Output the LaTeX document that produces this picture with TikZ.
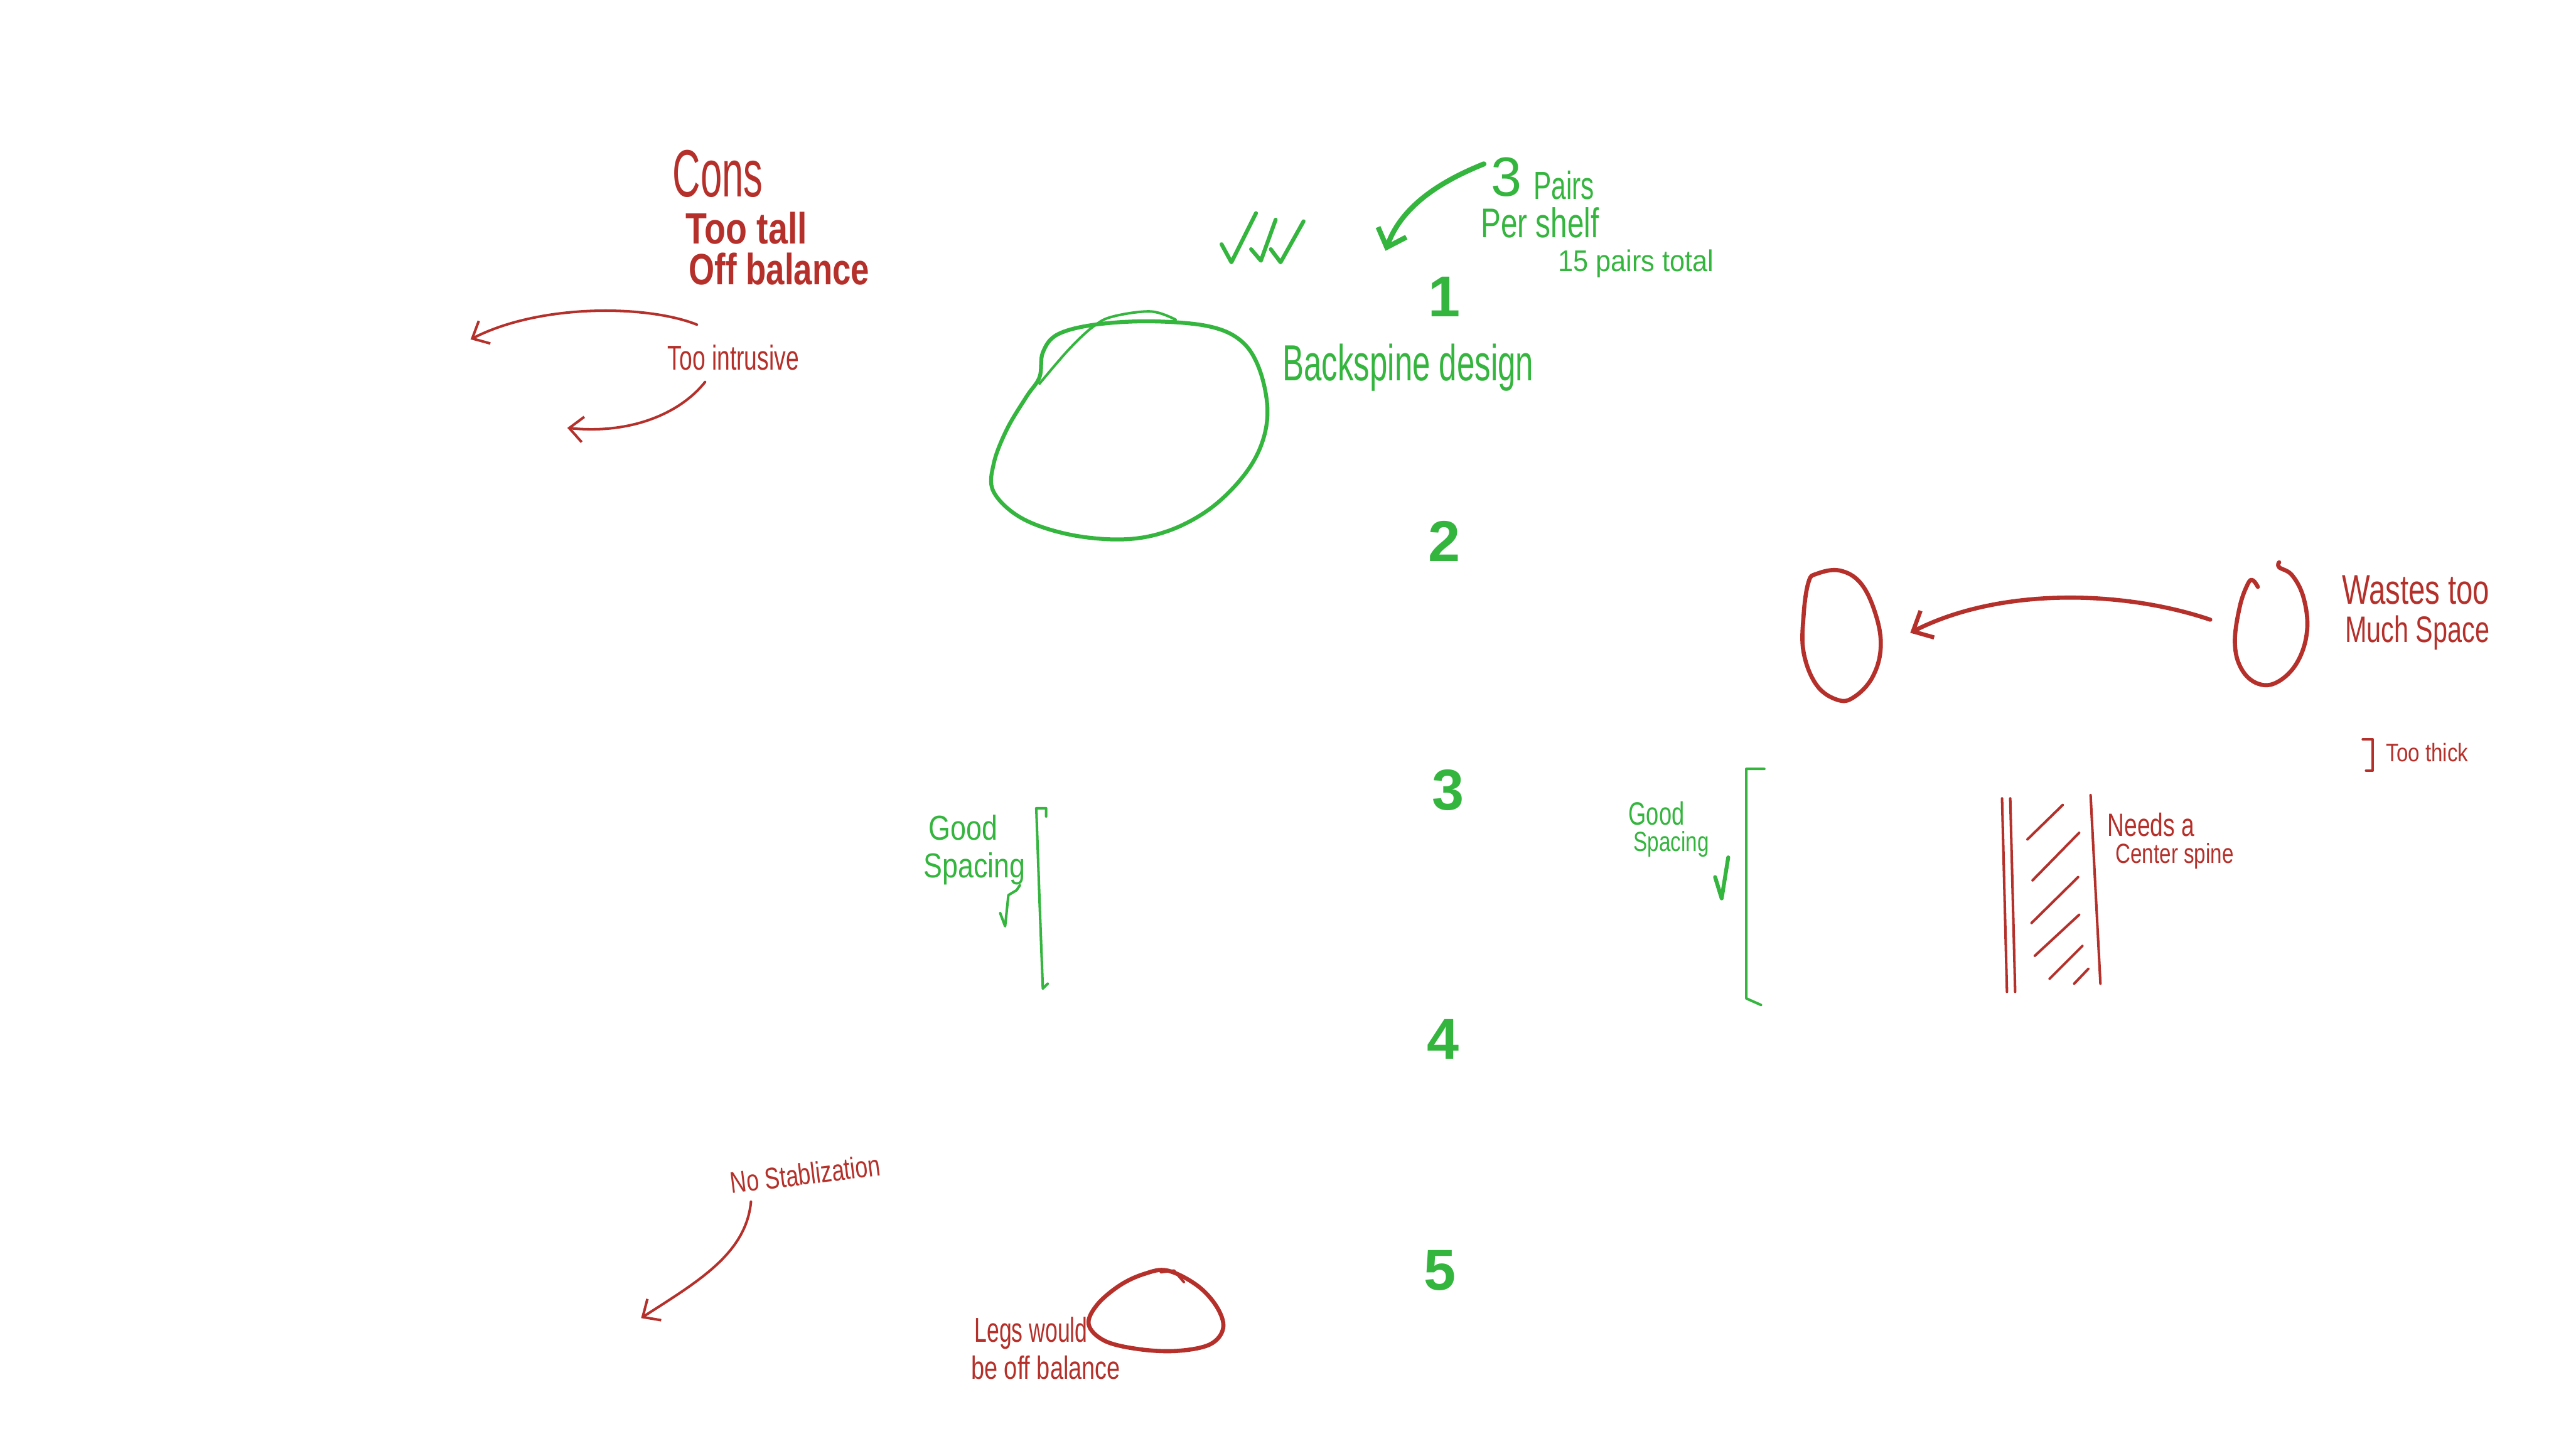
\documentclass[tikz,border=0pt]{standalone}
\usepackage{fontspec}
\setmainfont{Liberation Sans}
\usetikzlibrary{arrows.meta}
\definecolor{pen}{HTML}{B5302A}
\definecolor{leaf}{HTML}{34B53E}
\newcommand\fitw[2]{\resizebox{#1}{\height}{#2}}
\tikzset{
  fs/.style={font=\fontsize{#1}{#1}\selectfont},
  fsb/.style={font=\fontsize{#1}{#1}\selectfont\bfseries},
  redtxt/.style={text=pen, inner sep=0pt, anchor=west},
  grntxt/.style={text=leaf, inner sep=0pt, anchor=west},
  numtxt/.style={text=leaf, inner sep=0pt, font=\fontsize{25}{25}\selectfont\bfseries},
  redthin/.style={draw=pen, line width=1.1pt, line cap=round, line join=round},
  redthick/.style={draw=pen, line width=1.8pt, line cap=round, line join=round},
  grnthin/.style={draw=leaf, line width=1.1pt, line cap=round, line join=round},
  grnthick/.style={draw=leaf, line width=1.7pt, line cap=round, line join=round},
  barb/.style={-{Straight Barb[length=6pt,width=11pt]}},
}
\begin{document}
\begin{tikzpicture}[x=0.025cm,y=0.025cm]
\fill[white] (0,0) rectangle (1568,-888);
\useasboundingbox (0,0) rectangle (1568,-888);

% ---------- left column: cons ----------
\node[redtxt, fs=29] (cons) at (410,-106) {\fitw{1.375cm}{Cons}};
\node[redtxt, fsb=19] (tall) at (418,-139) {\fitw{1.85cm}{Too tall}};
\node[redtxt, fsb=19] (offbal) at (420,-164) {\fitw{2.75cm}{Off balance}};
\node[redtxt, fs=15] (intr) at (407,-218) {\fitw{2.0cm}{Too intrusive}};
\coordinate (a1s) at (425,-198);
\coordinate (a1e) at (287,-207);
\draw[redthin, barb] (a1s) .. controls (395,-186) and (330,-185) .. (a1e);
\coordinate (a2s) at (430,-233);
\coordinate (a2e) at (346,-261);
\draw[redthin, barb] (a2s) .. controls (415,-252) and (385,-265) .. (a2e);

% ---------- top: checks, pairs ----------
\draw[grnthick] (745,-149) -- (751,-160) -- (766,-130);
\draw[grnthick] (763,-152) -- (769,-159) -- (778,-134);
\draw[grnthick] (775,-152) -- (781,-160) -- (795,-135);
\node[grntxt, fs=24] (three) at (909,-108) {3};
\node[grntxt, fs=17] (pairs) at (935,-113) {\fitw{0.925cm}{Pairs}};
\node[grntxt, fs=18] (shelf) at (903,-136) {\fitw{1.8cm}{Per shelf}};
\node[grntxt, fs=13] (total) at (950,-161) {\fitw{2.375cm}{15 pairs total}};
\coordinate (ga) at (905,-100);
\coordinate (gb) at (845,-153);
\draw[draw=leaf, line width=2.2pt, line cap=round, -{Straight Barb[length=7pt,width=13pt]}] (ga) .. controls (880,-110) and (855,-125) .. (gb);

% ---------- numbers ----------
\node[numtxt] (n1) at (881,-181) {1};
\node[numtxt] (n2) at (881,-330) {2};
\node[numtxt] (n3) at (883,-482) {3};
\node[numtxt] (n4) at (880,-634) {4};
\node[numtxt] (n5) at (878,-775) {5};

% ---------- green blob ----------
\draw[grnthick] plot[smooth cycle, tension=0.6] coordinates {
  (702,-196) (737,-199) (757,-208) (768,-225) (773,-250) (769,-272) (757,-292)
  (737,-311) (712,-324) (685,-329) (652,-326) (623,-316) (606,-300) (606,-283)
  (614,-262) (626,-242) (634,-230) (636,-215) (645,-204) (668,-198)};
\draw[grnthin] plot[smooth, tension=0.6] coordinates {
  (634,-234) (652,-213) (667,-199) (679,-193) (702,-190) (717,-195)};
\node[grntxt, fs=22] (back) at (782,-224) {\fitw{3.825cm}{Backspine design}};

% ---------- red ovals ----------
\draw[redthick] plot[smooth cycle, tension=0.65] coordinates {
  (1108,-350) (1122,-348) (1135,-356) (1144,-375) (1147,-395) (1142,-413)
  (1131,-425) (1121,-427) (1108,-418) (1100,-398) (1100,-375) (1103,-355)};
\node[draw=none, inner sep=0pt] (ovl) at (1123,-387) {};
\draw[redthick] plot[smooth, tension=0.65] coordinates {
  (1377,-358) (1374,-354) (1371,-356) (1366,-370) (1363,-392) (1367,-408)
  (1377,-417) (1389,-416) (1401,-404) (1407,-385) (1405,-365) (1398,-351) (1390,-346) (1390,-343)};
\node[draw=none, inner sep=0pt] (ovr) at (1385,-383) {};
\coordinate (a3s) at (1348,-378);
\coordinate (a3e) at (1165,-386);
\draw[redthick, -{Straight Barb[length=7pt,width=13pt]}] (a3s) .. controls (1295,-360) and (1220,-358) .. (a3e);
\node[redtxt, fs=18] (waste) at (1428,-360) {\fitw{2.25cm}{Wastes too}};
\node[redtxt, fs=16] (much) at (1430,-386) {\fitw{2.2cm}{Much Space}};
\draw[redthin] (1441,-451) -- (1447,-451) -- (1447,-470) -- (1443,-470);
\node[redtxt, fs=11] (thick) at (1455,-459) {\fitw{1.25cm}{Too thick}};

% ---------- row 3 ----------
\node[grntxt, fs=15] (good1) at (566,-505) {\fitw{1.05cm}{Good}};
\node[grntxt, fs=15] (spac1) at (563,-530) {\fitw{1.55cm}{Spacing}};
\draw[grnthin] (622,-540) -- (620,-543) -- (615,-546) -- (613,-565) -- (610,-557);
\draw[grnthin] (638,-498) -- (638,-493) -- (632,-493) -- (634,-550) -- (636,-603) -- (639,-600);
\node[grntxt, fs=14] (good2) at (993,-496) {\fitw{0.85cm}{Good}};
\node[grntxt, fs=12] (spac2) at (996,-515) {\fitw{1.15cm}{Spacing}};
\draw[grnthick] (1046,-535) -- (1050,-548) -- (1054,-523);
\draw[grnthin] (1076,-469) -- (1065,-469) -- (1065,-540) -- (1065,-609) -- (1074,-613);

% spine sketch
\draw[redthin] (1221,-487) -- (1224,-605);
\draw[redthin] (1226,-487) -- (1229,-605);
\draw[redthin] (1275,-485) -- (1281,-600);
\draw[redthin] (1236.5,-512) -- (1258,-491);
\draw[redthin] (1239.6,-537) -- (1268,-508);
\draw[redthin] (1239,-563) -- (1267.4,-535);
\draw[redthin] (1241,-583) -- (1268,-558);
\draw[redthin] (1250,-597) -- (1270,-577);
\draw[redthin] (1265,-600) -- (1273.6,-591);
\node[redtxt, fs=14] (needs) at (1285,-503) {\fitw{1.325cm}{Needs a}};
\node[redtxt, fs=12] (center) at (1290,-522) {\fitw{1.8cm}{Center spine}};

% ---------- row 5 ----------
\node[text=pen, inner sep=0pt, fs=13, rotate=7] (nostab) at (491,-716) {\fitw{2.3cm}{No Stablization}};
\coordinate (a4s) at (458,-733);
\coordinate (a4e) at (391,-804);
\draw[redthin, barb] (a4s) .. controls (455,-765) and (425,-782) .. (a4e);
\draw[redthick] plot[smooth cycle, tension=0.6] coordinates {
  (712,-775) (730,-784) (742,-797) (746,-810) (738,-820) (718,-824) (695,-823)
  (674,-818) (664,-808) (669,-796) (683,-784) (698,-777)};
\draw[redthin] (708,-776) -- (716,-775) -- (722,-782);
\node[redtxt, fs=15] (legs) at (594,-813) {\fitw{1.725cm}{Legs would}};
\node[redtxt, fs=14] (beoff) at (592,-834) {\fitw{2.275cm}{be off balance}};
\end{tikzpicture}
\end{document}
